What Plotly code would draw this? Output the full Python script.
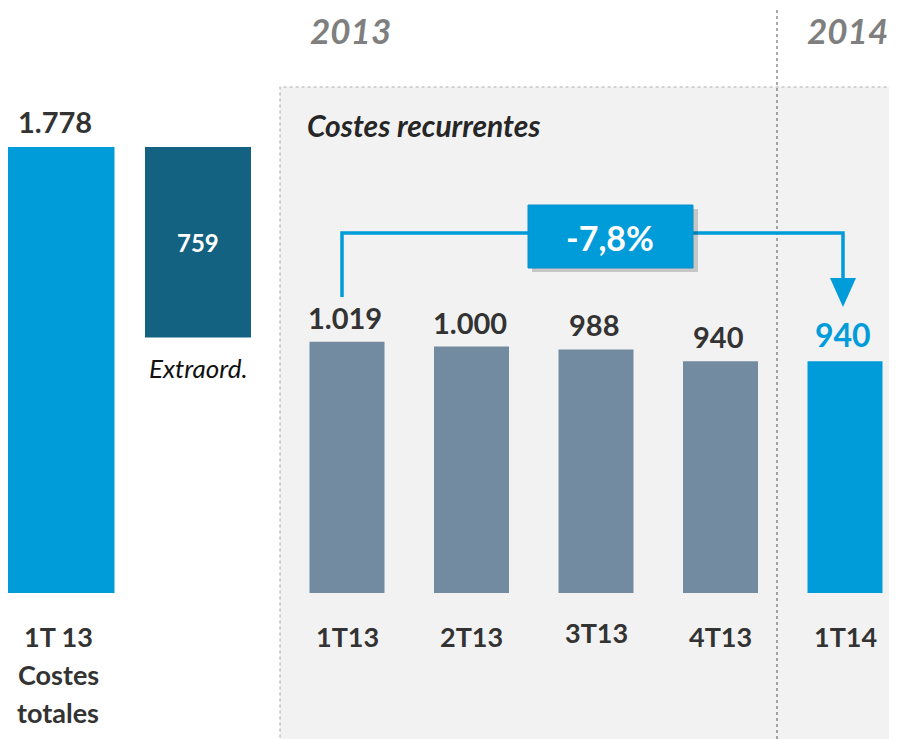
import plotly.graph_objects as go

# datos
total_label = ["1T 13", "Costes", "totales"]
total_value = 1778
extra_label = "Extraord."
extra_value = 759
quarters = ["1T13", "2T13", "3T13", "4T13", "1T14"]
recurrent = [1019, 1000, 988, 940, 940]
change_label = "-7,8%"
years = ["2013", "2014"]
section_title = "Costes recurrentes"

BLUE = "#009CDA"
TEAL = "#136282"
GREY_BAR = "#738BA0"
TEXT = "#333333"
FONT = "Lato"

# the page body adds an 8px margin, so the figure is drawn 8px smaller
# and coordinates below are in reference-screen pixels
OFF = 8
W, H = 897 - OFF, 739 - OFF

left_x = [61, 198]
rec_x = [347 + 124.5 * i for i in range(len(quarters))]


def py(p):
    # reference pixel row -> paper y
    return 1 - (p - OFF) / H


def fmt(v):
    return f"{v:,}".replace(",", ".")


fig = go.Figure()

fig.add_trace(go.Bar(x=[left_x[0]], y=[total_value], width=[107],
                     marker=dict(color=BLUE, line=dict(width=0)),
                     yaxis="y", hoverinfo="skip"))
fig.add_trace(go.Bar(x=[left_x[1]], y=[extra_value], base=[total_value - extra_value],
                     width=[106], marker=dict(color=TEAL, line=dict(width=0)),
                     yaxis="y", hoverinfo="skip"))
fig.add_trace(go.Bar(x=rec_x, y=recurrent, width=75,
                     marker=dict(color=[GREY_BAR] * 4 + [BLUE], line=dict(width=0)),
                     yaxis="y2", hoverinfo="skip"))

# grey "recurrent" panel and the year divider
fig.add_shape(type="rect", xref="x", yref="paper", x0=280, x1=910, y0=-0.02, y1=py(87),
              fillcolor="#F2F2F2", line=dict(color="#B0B0B0", width=1.2, dash="dot"), layer="below")
fig.add_shape(type="line", xref="x", yref="paper", x0=777, x1=777, y0=0, y1=py(8),
              line=dict(color="#555555", width=1, dash="dot"))

annotations = []

# value labels
annotations.append(dict(x=left_x[0] - 6, y=total_value, yref="y", text=f"<b>{fmt(total_value)}</b>",
                        yanchor="bottom", yshift=6, font=dict(size=29, color=TEXT)))
annotations.append(dict(x=left_x[1], y=total_value - extra_value / 2, yref="y", text=f"<b>{extra_value}</b>",
                        font=dict(size=24, color="white")))
annotations.append(dict(x=left_x[1], y=total_value - extra_value, yref="y", text=f"<i>{extra_label}</i>",
                        yanchor="top", yshift=-13, font=dict(size=26, color="#111111")))
for i, (q, v) in enumerate(zip(quarters, recurrent)):
    last = i == len(quarters) - 1
    annotations.append(dict(x=rec_x[i] - 2, y=v, yref="y2", text=f"<b>{fmt(v)}</b>", yanchor="bottom",
                            yshift=5, font=dict(size=32 if last else 29, color=BLUE if last else TEXT)))
    annotations.append(dict(x=rec_x[i], y=py(636 if q != "3T13" else 632), yref="paper", text=f"<b>{q}</b>",
                            font=dict(size=27, color=TEXT)))

for j, line in enumerate(total_label):
    annotations.append(dict(x=left_x[0] - 3, y=py(636 + 38 * j), yref="paper", text=f"<b>{line}</b>",
                            font=dict(size=27, color=TEXT)))

# headings
annotations.append(dict(x=350, y=py(30), yref="paper", text=f"<b><i>{years[0]}</i></b>",
                        font=dict(size=35, color="#7F7F7F")))
annotations.append(dict(x=805, y=py(30), yref="paper", text=f"<b><i>{years[1]}</i></b>",
                        xanchor="left", font=dict(size=35, color="#7F7F7F")))
annotations.append(dict(x=305, y=py(125), yref="paper", text=f"<b><i>{section_title}</i></b>",
                        xanchor="left", font=dict(size=30, color="#262626")))

# change bracket from 1T13 to 1T14
ya = py(233)
fig.add_shape(type="path", xref="x", yref="paper",
              path=f"M {rec_x[0] - 5},{py(297)} L {rec_x[0] - 5},{ya} L {rec_x[-1] - 2},{ya} L {rec_x[-1] - 2},{py(280)}",
              line=dict(color=BLUE, width=3.5))
fig.add_shape(type="path", xref="x", yref="paper",
              path=f"M {rec_x[-1] - 15},{py(278)} L {rec_x[-1] + 11},{py(278)} L {rec_x[-1] - 2},{py(307)} Z",
              fillcolor=BLUE, line=dict(width=0))
fig.add_shape(type="rect", xref="x", yref="paper", x0=532, x1=698, y0=py(272), y1=py(209),
              fillcolor="rgba(0,0,0,0.18)", line=dict(width=0))
fig.add_shape(type="rect", xref="x", yref="paper", x0=528, x1=693, y0=py(268), y1=py(205),
              fillcolor=BLUE, line=dict(color="#0A8FC8", width=1))
annotations.append(dict(x=610, y=py(237), yref="paper", text=f"<b>{change_label}</b>",
                        font=dict(size=34, color="white")))

for a in annotations:
    a.setdefault("xref", "x")
    a.setdefault("xanchor", "center")
    a.setdefault("yanchor", "middle")
    a["showarrow"] = False

fig.update_layout(
    width=W, height=H,
    margin=dict(l=0, r=0, t=0, b=0),
    paper_bgcolor="white", plot_bgcolor="rgba(0,0,0,0)",
    font=dict(family=FONT, color=TEXT),
    showlegend=False,
    barmode="overlay",
    annotations=annotations,
    xaxis=dict(range=[OFF, 897], visible=False, fixedrange=True),
    yaxis=dict(range=[-(739 - 593) / 0.2508, (593 - OFF) / 0.2508], visible=False, fixedrange=True),
    yaxis2=dict(range=[-(739 - 593) / 0.2465, (593 - OFF) / 0.2465], visible=False,
                fixedrange=True, overlaying="y"),
)

fig.write_html("out.html")
